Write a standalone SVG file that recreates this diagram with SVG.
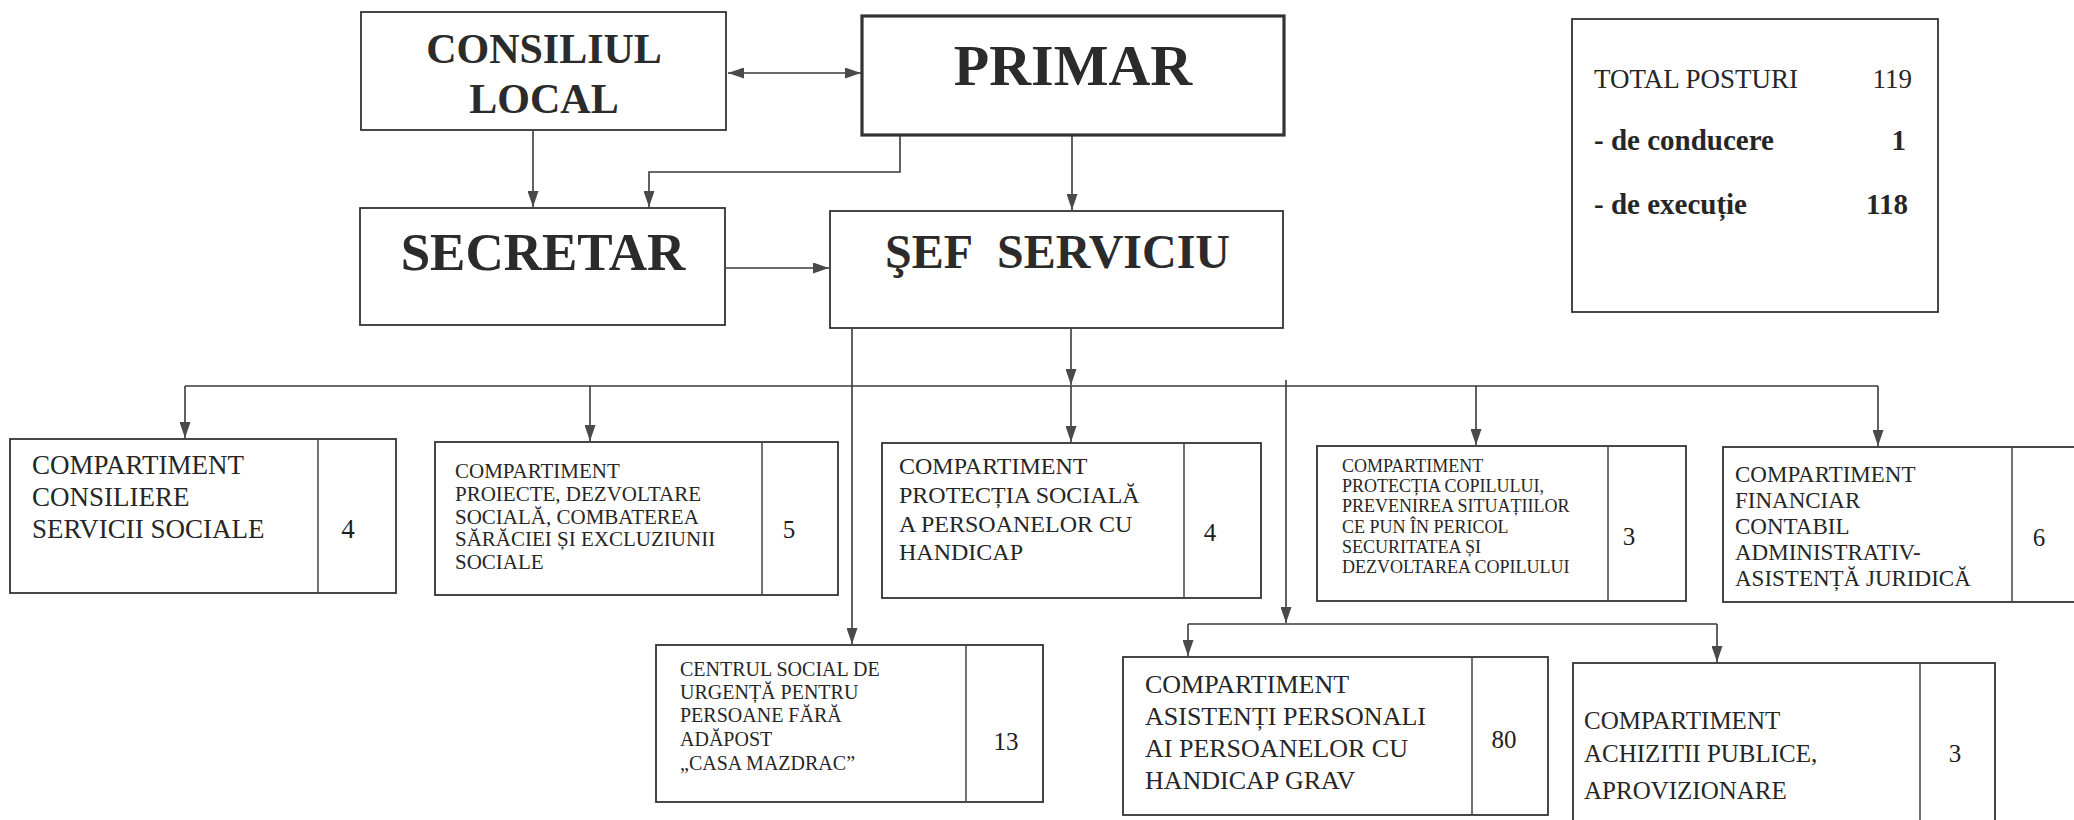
<svg xmlns="http://www.w3.org/2000/svg" width="2074" height="820" viewBox="0 0 2074 820">
<style>
  .bg { fill: #ffffff; }
  .box { fill: #ffffff; stroke: #333333; stroke-width: 1.8; }
  .thick { stroke-width: 3.2; }
  .div { stroke: #444444; stroke-width: 1.5; }
  .con { fill: none; stroke: #3a3a3a; stroke-width: 1.6; }
  .arr { marker-end: url(#ah); }
  .hd { font-family: "Liberation Serif", "Times New Roman", serif; font-weight: bold; fill: #2b2b2b; text-anchor: middle; }
  .hs { font-family: "Liberation Serif", "Times New Roman", serif; font-weight: bold; fill: #2b2b2b; }
  .t { font-family: "Liberation Serif", "Times New Roman", serif; fill: #262626; }
  .n { font-family: "Liberation Serif", "Times New Roman", serif; fill: #1e1e1e; text-anchor: middle; }
  .b { font-weight: bold; }
</style>
<defs>
  <marker id="ah" viewBox="0 0 16 11" refX="16" refY="5.5" markerWidth="16" markerHeight="11" markerUnits="userSpaceOnUse" orient="auto-start-reverse">
    <path d="M0,0 L16,5.5 L0,11 z" fill="#4a4a4a"/>
  </marker>
</defs>
<rect class="bg" x="0" y="0" width="2074" height="820"/>

<g id="connectors">
  <line class="con" x1="728" y1="73" x2="861" y2="73" marker-start="url(#ah)" marker-end="url(#ah)"/>
  <line class="con arr" x1="533" y1="131" x2="533" y2="207"/>
  <polyline class="con arr" points="900,136 900,172 649,172 649,207"/>
  <line class="con arr" x1="1072" y1="136" x2="1072" y2="210"/>
  <line class="con arr" x1="726" y1="268" x2="829" y2="268"/>
  <line class="con arr" x1="1071" y1="329" x2="1071" y2="385"/>
  <line class="con" x1="185" y1="386" x2="1878" y2="386"/>
  <line class="con arr" x1="185" y1="386" x2="185" y2="438"/>
  <line class="con arr" x1="590" y1="386" x2="590" y2="441"/>
  <line class="con arr" x1="1071" y1="386" x2="1071" y2="442"/>
  <line class="con arr" x1="1476" y1="386" x2="1476" y2="445"/>
  <line class="con arr" x1="1878" y1="386" x2="1878" y2="446"/>
  <line class="con arr" x1="852" y1="329" x2="852" y2="644"/>
  <line class="con arr" x1="1286" y1="380" x2="1286" y2="623"/>
  <line class="con" x1="1188" y1="624" x2="1717" y2="624"/>
  <line class="con arr" x1="1188" y1="624" x2="1188" y2="656"/>
  <line class="con arr" x1="1717" y1="624" x2="1717" y2="662"/>
</g>

<g id="consiliul-local">
  <rect class="box" x="361" y="12" width="365" height="118"/>
  <text class="hd" x="544" y="63" font-size="42">CONSILIUL</text>
  <text class="hd" x="544" y="113" font-size="42">LOCAL</text>
</g>

<g id="primar">
  <rect class="box thick" x="862" y="16" width="422" height="119"/>
  <text class="hd" x="1073" y="85" font-size="58">PRIMAR</text>
</g>

<g id="secretar">
  <rect class="box" x="360" y="208" width="365" height="117"/>
  <text class="hd" x="543" y="270" font-size="53">SECRETAR</text>
</g>

<g id="sef-serviciu">
  <rect class="box" x="830" y="211" width="453" height="117"/>
  <text class="hs" x="885" y="268" font-size="48">ŞEF</text>
  <text class="hs" x="1230" y="268" font-size="48" text-anchor="end">SERVICIU</text>
</g>

<g id="total-posturi">
  <rect class="box" x="1572" y="19" width="366" height="293"/>
  <text class="t" x="1594" y="88" font-size="27">TOTAL POSTURI</text>
  <text class="t" x="1912" y="88" font-size="27" text-anchor="end">119</text>
  <text class="t b" x="1594" y="150" font-size="29">- de conducere</text>
  <text class="t b" x="1906" y="150" font-size="29" text-anchor="end">1</text>
  <text class="t b" x="1594" y="214" font-size="29">- de execuție</text>
  <text class="t b" x="1908" y="214" font-size="29" text-anchor="end">118</text>
</g>

<g id="comp-consiliere">
  <rect class="box" x="10" y="439" width="386" height="154"/>
  <line class="div" x1="318" y1="439" x2="318" y2="593"/>
  <text class="t" x="32" y="474" font-size="27">COMPARTIMENT</text>
  <text class="t" x="32" y="506" font-size="27">CONSILIERE</text>
  <text class="t" x="32" y="538" font-size="27">SERVICII SOCIALE</text>
  <text class="n" x="348" y="538" font-size="27">4</text>
</g>

<g id="comp-proiecte">
  <rect class="box" x="435" y="442" width="403" height="153"/>
  <line class="div" x1="762" y1="442" x2="762" y2="595"/>
  <text class="t" x="455" y="478" font-size="21">COMPARTIMENT</text>
  <text class="t" x="455" y="501" font-size="21">PROIECTE, DEZVOLTARE</text>
  <text class="t" x="455" y="524" font-size="21">SOCIALĂ, COMBATEREA</text>
  <text class="t" x="455" y="546" font-size="21">SĂRĂCIEI ȘI EXCLUZIUNII</text>
  <text class="t" x="455" y="569" font-size="21">SOCIALE</text>
  <text class="n" x="789" y="538" font-size="25">5</text>
</g>

<g id="comp-protectia-sociala">
  <rect class="box" x="882" y="443" width="379" height="155"/>
  <line class="div" x1="1184" y1="443" x2="1184" y2="598"/>
  <text class="t" x="899" y="474" font-size="24">COMPARTIMENT</text>
  <text class="t" x="899" y="503" font-size="24">PROTECȚIA SOCIALĂ</text>
  <text class="t" x="899" y="532" font-size="24">A PERSOANELOR CU</text>
  <text class="t" x="899" y="560" font-size="24">HANDICAP</text>
  <text class="n" x="1210" y="541" font-size="25">4</text>
</g>

<g id="comp-protectia-copilului">
  <rect class="box" x="1317" y="446" width="369" height="155"/>
  <line class="div" x1="1608" y1="446" x2="1608" y2="601"/>
  <text class="t" x="1342" y="472" font-size="18">COMPARTIMENT</text>
  <text class="t" x="1342" y="492" font-size="18">PROTECȚIA COPILULUI,</text>
  <text class="t" x="1342" y="512" font-size="18">PREVENIREA SITUAȚIILOR</text>
  <text class="t" x="1342" y="533" font-size="18">CE PUN ÎN PERICOL</text>
  <text class="t" x="1342" y="553" font-size="18">SECURITATEA ȘI</text>
  <text class="t" x="1342" y="573" font-size="18">DEZVOLTAREA COPILULUI</text>
  <text class="n" x="1629" y="545" font-size="25">3</text>
</g>

<g id="comp-financiar">
  <rect class="box" x="1723" y="447" width="370" height="155"/>
  <line class="div" x1="2012" y1="447" x2="2012" y2="602"/>
  <text class="t" x="1735" y="482" font-size="23">COMPARTIMENT</text>
  <text class="t" x="1735" y="508" font-size="23">FINANCIAR</text>
  <text class="t" x="1735" y="534" font-size="23">CONTABIL</text>
  <text class="t" x="1735" y="560" font-size="23">ADMINISTRATIV-</text>
  <text class="t" x="1735" y="586" font-size="23">ASISTENȚĂ JURIDICĂ</text>
  <text class="n" x="2039" y="546" font-size="25">6</text>
</g>

<g id="centrul-social">
  <rect class="box" x="656" y="645" width="387" height="157"/>
  <line class="div" x1="966" y1="645" x2="966" y2="802"/>
  <text class="t" x="680" y="676" font-size="20">CENTRUL SOCIAL DE</text>
  <text class="t" x="680" y="699" font-size="20">URGENȚĂ PENTRU</text>
  <text class="t" x="680" y="722" font-size="20">PERSOANE FĂRĂ</text>
  <text class="t" x="680" y="746" font-size="20">ADĂPOST</text>
  <text class="t" x="680" y="770" font-size="20">„CASA MAZDRAC”</text>
  <text class="n" x="1006" y="750" font-size="25">13</text>
</g>

<g id="comp-asistenti">
  <rect class="box" x="1123" y="657" width="425" height="158"/>
  <line class="div" x1="1472" y1="657" x2="1472" y2="815"/>
  <text class="t" x="1145" y="693" font-size="26">COMPARTIMENT</text>
  <text class="t" x="1145" y="725" font-size="26">ASISTENȚI PERSONALI</text>
  <text class="t" x="1145" y="757" font-size="26">AI PERSOANELOR CU</text>
  <text class="t" x="1145" y="789" font-size="26">HANDICAP GRAV</text>
  <text class="n" x="1504" y="748" font-size="25">80</text>
</g>

<g id="comp-achizitii">
  <rect class="box" x="1573" y="663" width="422" height="170"/>
  <line class="div" x1="1920" y1="663" x2="1920" y2="833"/>
  <text class="t" x="1584" y="729" font-size="25">COMPARTIMENT</text>
  <text class="t" x="1584" y="762" font-size="25">ACHIZITII PUBLICE,</text>
  <text class="t" x="1584" y="799" font-size="25">APROVIZIONARE</text>
  <text class="n" x="1955" y="762" font-size="25">3</text>
</g>
</svg>
